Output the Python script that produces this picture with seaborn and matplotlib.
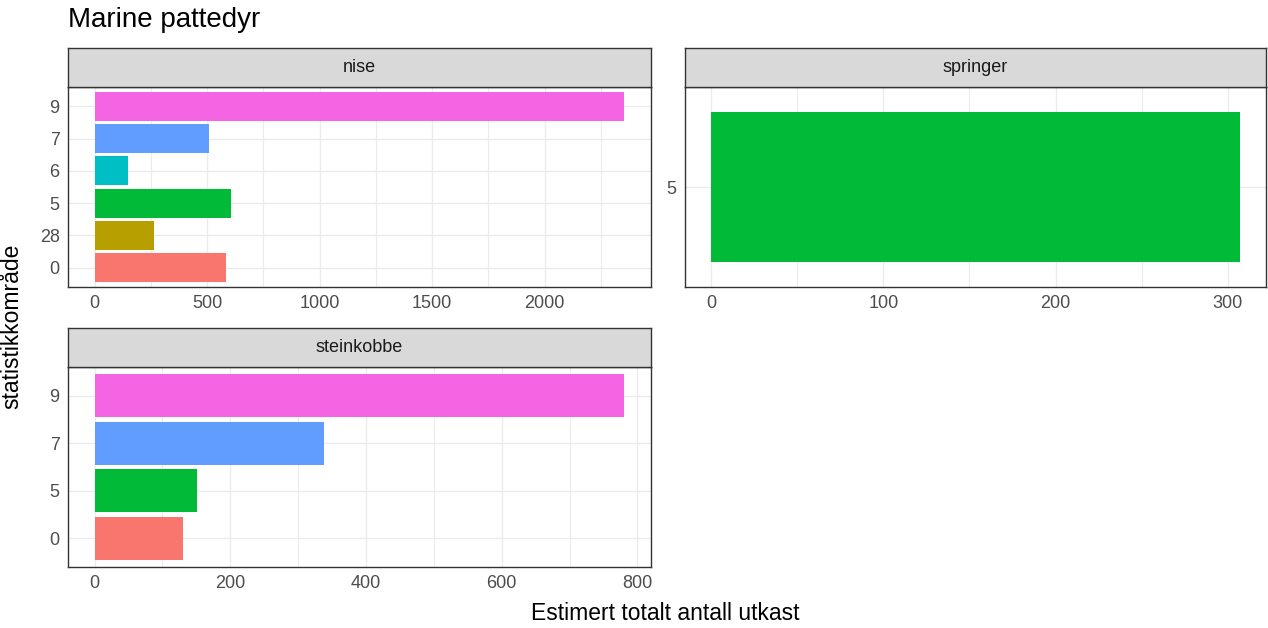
import pandas as pd
import matplotlib
matplotlib.use("Agg")
import matplotlib.pyplot as plt
import seaborn as sns
from matplotlib.ticker import MultipleLocator

W, H = 1268, 628

# factor levels in ggplot order (bottom -> top) and their hue colours
omrade_levels = ['0', '28', '5', '6', '7', '9']
omrade_colors = ['#F8766D', '#B79F00', '#00BA38', '#00BFC4', '#619CFF', '#F564E3']

nise_omrade = ['0', '28', '5', '6', '7', '9']
nise_antall = [584, 265, 605, 147, 507, 2355]

springer_omrade = ['5']
springer_antall = [307]

steinkobbe_omrade = ['0', '5', '7', '9']
steinkobbe_antall = [130, 151, 338, 781]

frames = []
for art, omr, ant in [('nise', nise_omrade, nise_antall),
                      ('springer', springer_omrade, springer_antall),
                      ('steinkobbe', steinkobbe_omrade, steinkobbe_antall)]:
    frames.append(pd.DataFrame({'art': art, 'omrade': omr, 'antall': ant}))
df = pd.concat(frames, ignore_index=True)

pal = dict(zip(omrade_levels, omrade_colors))

sns.set_style("white")
plt.rcParams['font.family'] = ['Liberation Sans', 'DejaVu Sans']

fig = plt.figure(figsize=(W / 100, H / 100), dpi=100)


def px_rect(x0, y0, x1, y1):
    return [x0 / W, 1 - y1 / H, (x1 - x0) / W, (y1 - y0) / H]


def draw_panel(art, x0, x1, ystrip, y0, y1, step):
    ax = fig.add_axes(px_rect(x0, y0, x1, y1))
    d = df[df['art'] == art]
    order = [o for o in omrade_levels if o in set(d['omrade'])][::-1]
    sns.barplot(data=d, x='antall', y='omrade', hue='omrade', order=order,
                hue_order=order, palette=pal, orient='h', width=0.9,
                linewidth=0, saturation=1, dodge=False, legend=False,
                errorbar=None, ax=ax)
    xmax = d['antall'].max()
    ax.set_xlim(-0.05 * xmax, 1.05 * xmax)
    n = len(order)
    ax.set_ylim(n - 1 + 0.6, -0.6)
    ax.xaxis.set_major_locator(MultipleLocator(step))
    ax.xaxis.set_minor_locator(MultipleLocator(step / 2))
    ax.set_axisbelow(True)
    ax.grid(True, which='major', color='#EBEBEB', lw=1.0)
    ax.grid(True, which='minor', axis='x', color='#EBEBEB', lw=0.8)
    ax.set_xlabel('')
    ax.set_ylabel('')
    ax.tick_params(which='major', length=4, width=0.8, color='#333333',
                   labelcolor='#4D4D4D', labelsize=13, pad=2)
    ax.tick_params(which='minor', length=0)
    for sp in ax.spines.values():
        sp.set_visible(True)
        sp.set_color('#333333')
        sp.set_linewidth(1.0)

    # facet strip on top of the panel
    sax = fig.add_axes(px_rect(x0, ystrip, x1, y0))
    sax.set_facecolor('#D9D9D9')
    sax.set_xticks([])
    sax.set_yticks([])
    for sp in sax.spines.values():
        sp.set_color('#333333')
        sp.set_linewidth(1.0)
    sax.text(0.5, 0.5, art, ha='center', va='center', fontsize=13,
             color='#1A1A1A', transform=sax.transAxes)
    return ax


draw_panel('nise', 68, 651, 48, 87, 287, 500)
draw_panel('springer', 685, 1266, 48, 87, 287, 100)
draw_panel('steinkobbe', 68, 651, 328, 367, 567, 200)

fig.text(68 / W, 1 - 20 / H, 'Marine pattedyr', fontsize=20, color='black',
         ha='left', va='center')
fig.text(665 / W, 1 - 613 / H, 'Estimert totalt antall utkast', fontsize=16.5,
         color='black', ha='center', va='center')
fig.text(12 / W, 1 - 326 / H, 'statistikkområde', fontsize=16.5, color='black',
         ha='center', va='center', rotation=90)

fig.savefig('out.png', dpi=100, facecolor='white')
